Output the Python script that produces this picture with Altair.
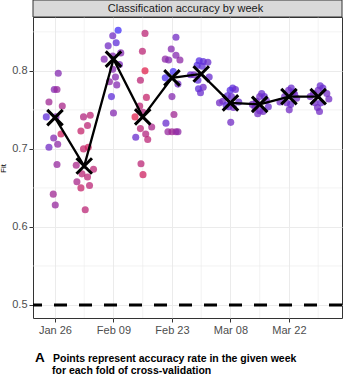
import altair as alt
import pandas as pd

# ---- data ----
week_days = [0, 7, 14, 21, 28, 35, 42, 49, 56, 63]  # days since 2020-01-26
week_means = [0.740, 0.678, 0.815, 0.741, 0.791, 0.796, 0.759, 0.757, 0.767, 0.767]

fold_acc = [
    [0.797, 0.776, 0.776, 0.760, 0.755, 0.741, 0.741, 0.719, 0.714, 0.706, 0.702, 0.680, 0.642, 0.628],
    [0.741, 0.743, 0.730, 0.723, 0.700, 0.702, 0.679, 0.674, 0.668, 0.664, 0.658, 0.650, 0.653, 0.622],
    [0.852, 0.845, 0.836, 0.832, 0.823, 0.815, 0.819, 0.808, 0.802, 0.792, 0.786, 0.782, 0.767, 0.746],
    [0.848, 0.825, 0.800, 0.788, 0.766, 0.755, 0.747, 0.741, 0.726, 0.728, 0.719, 0.712, 0.715, 0.681, 0.667],
    [0.843, 0.828, 0.820, 0.815, 0.814, 0.814, 0.799, 0.791, 0.783, 0.767, 0.744, 0.733, 0.722, 0.722, 0.722, 0.722],
    [0.813, 0.812, 0.811, 0.807, 0.806, 0.795, 0.795, 0.792, 0.788, 0.779, 0.777, 0.772],
    [0.778, 0.775, 0.776, 0.768, 0.767, 0.761, 0.759, 0.760, 0.756, 0.754, 0.753, 0.734],
    [0.771, 0.767, 0.767, 0.761, 0.762, 0.757, 0.754, 0.753, 0.749, 0.748, 0.745],
    [0.778, 0.775, 0.773, 0.767, 0.765, 0.760, 0.759, 0.757, 0.750, 0.770],
    [0.781, 0.778, 0.775, 0.771, 0.771, 0.767, 0.764, 0.759, 0.759, 0.753, 0.748],
]
fold_jitter = [
    [0.79, -0.17, 0.48, -1.44, 1.75, -2.08, 0.24, 1.44, -0.31, 0.65, -1.44, 0.48, -0.41, 0.07],
    [-0.17, 1.44, 0.79, -0.79, -0.17, 0.96, -1.91, 2.22, -0.55, 0.79, -1.75, -0.79, 1.27, 0.24],
    [1.12, -0.17, 0.65, -1.27, 1.75, -2.22, -0.17, 1.44, -0.17, 0.48, -0.96, 0.79, -0.48, 0.0],
    [0.55, -0.07, 0.55, -0.55, 0.89, -0.72, 0.07, -1.84, -0.55, 2.15, 0.72, 1.20, -1.67, -0.41, 0.07],
    [0.96, -0.17, 0.96, -1.60, -0.79, 1.91, 0.31, -1.60, 1.44, 0.0, 0.48, -1.44, -0.96, 0.0, 0.96, 1.44],
    [-0.48, 0.48, 1.60, -0.96, 0.24, -2.56, -1.75, 1.91, -0.79, 0.48, -0.65, -0.17],
    [0.55, -0.07, 1.20, -0.72, 0.24, -1.84, -2.63, 1.99, -1.03, -0.41, 0.72, 0.07],
    [0.48, 0.0, 1.12, -0.79, 1.60, -1.75, 2.07, -1.12, 0.0, 0.79, -0.48],
    [0.55, -0.07, 1.03, -1.03, 1.84, -2.15, -0.55, 0.41, 0.07, 1.36],
    [0.48, 1.12, 0.0, -1.12, 2.07, -1.91, 2.55, -0.79, 0.65, -0.17, 0.31],
]
fold_share = [
    [0.6, 0.6, 0.5, 0.45, 0.4, 0.8, 0.6, 0.2, 0.6, 0.55, 0.7, 0.5, 0.45, 0.5],
    [0.35, 0.3, 0.3, 0.25, 0.25, 0.2, 0.4, 0.3, 0.3, 0.3, 0.4, 0.25, 0.3, 0.3],
    [0.95, 0.7, 0.8, 0.7, 0.6, 0.6, 0.6, 0.65, 0.6, 0.6, 0.55, 0.6, 0.8, 0.6],
    [0.3, 0.3, 0.1, 0.3, 0.25, 0.3, 0.35, 0.1, 0.3, 0.4, 0.35, 0.3, 0.75, 0.3, 0.2],
    [0.7, 0.6, 0.6, 0.55, 0.6, 0.55, 0.95, 0.9, 0.7, 0.6, 0.45, 0.75, 0.5, 0.45, 0.5, 0.55],
    [0.85, 0.8, 0.75, 0.85, 0.8, 0.75, 0.7, 0.75, 0.8, 0.7, 0.8, 0.75],
    [0.8, 0.85, 0.75, 0.8, 0.75, 0.7, 0.7, 0.75, 0.8, 0.75, 0.7, 0.7],
    [0.75, 0.7, 0.75, 0.7, 0.7, 0.7, 0.75, 0.7, 0.7, 0.7, 0.7],
    [0.75, 0.7, 0.75, 0.7, 0.7, 0.7, 0.7, 0.75, 0.7, 0.7],
    [0.75, 0.75, 0.7, 0.7, 0.7, 0.7, 0.7, 0.7, 0.75, 0.7, 0.7],
]

x_tick_days = [0, 14, 28, 42, 56]
x_tick_labels = ["Jan 26", "Feb 09", "Feb 23", "Mar 08", "Mar 22"]
x_minor_days = [7, 21, 35, 49, 63]
y_ticks = [0.5, 0.6, 0.7, 0.8]
y_minor = [0.55, 0.65, 0.75, 0.85]
chance_level = [0.5]

panel_title = "Classification accuracy by week"
caption_letter = "A"
caption_lines = ["Points represent accuracy rate in the given week",
                 "for each fold of cross-validation"]

# ---- tables ----
rows = []
for d, accs, jits, shares in zip(week_days, fold_acc, fold_jitter, fold_share):
    for a, j, s in zip(accs, jits, shares):
        rows.append({"day": d + j, "fit": a, "share": s})
points_df = pd.DataFrame(rows)
means_df = pd.DataFrame({"day": week_days, "fit": week_means})

W, H = 309, 301
FONT = "Liberation Sans"

xscale = alt.Scale(domain=[-5.26, 68.7], nice=False, zero=False)
yscale = alt.Scale(domain=[0.4833, 0.869], nice=False, zero=False)

label_arr = "[" + ",".join("'" + s + "'" for s in x_tick_labels) + "]"

xaxis = alt.Axis(values=x_tick_days, labelExpr=label_arr + "[round(datum.value/14)]",
                 title=None, grid=True, gridColor="#ebebeb", gridWidth=1,
                 domain=False, ticks=True, tickColor="#333333", tickSize=4,
                 labelColor="#4d4d4d", labelFontSize=11, labelFont=FONT, labelPadding=2)
yaxis = alt.Axis(values=y_ticks, format=".1f", title="Fit", grid=True,
                 gridColor="#ebebeb", gridWidth=1, domain=False, ticks=True,
                 tickColor="#333333", tickSize=4, labelColor="#4d4d4d",
                 labelFontSize=11, labelFont=FONT, labelPadding=2,
                 titleFont=FONT, titleFontSize=8, titleFontWeight="normal",
                 titleColor="#000000", titleX=-26, titleY=151)

ygrid_minor = alt.Chart(pd.DataFrame({"fit": y_minor})).mark_rule(
    color="#ebebeb", strokeWidth=0.6).encode(y=alt.Y("fit:Q", scale=yscale, axis=yaxis))
xgrid_minor = alt.Chart(pd.DataFrame({"day": x_minor_days})).mark_rule(
    color="#ebebeb", strokeWidth=0.6).encode(x=alt.X("day:Q", scale=xscale, axis=xaxis))

chance = alt.Chart(pd.DataFrame({"fit": chance_level})).mark_rule(
    color="black", strokeWidth=3, strokeDash=[13, 12]).encode(y=alt.Y("fit:Q", scale=yscale))

pts = alt.Chart(points_df).mark_circle(size=50, opacity=0.75).encode(
    x=alt.X("day:Q", scale=xscale),
    y=alt.Y("fit:Q", scale=yscale),
    color=alt.Color("share:Q", scale=alt.Scale(domain=[0, 1], range=["#f2203a", "#3a30ff"],
                                               interpolate="rgb"), legend=None),
)

line = alt.Chart(means_df).mark_line(color="black", strokeWidth=2.3).encode(
    x=alt.X("day:Q", scale=xscale), y=alt.Y("fit:Q", scale=yscale))

crosses = alt.Chart(means_df).mark_point(
    shape="M-1,-1L1,1M-1,1L1,-1", filled=False, stroke="black", strokeWidth=3,
    size=240, opacity=1).encode(x=alt.X("day:Q", scale=xscale), y=alt.Y("fit:Q", scale=yscale))

one = pd.DataFrame({"k": [0]})
strip = alt.Chart(one).mark_rect(fill="#d9d9d9", stroke="#333333", strokeWidth=1).encode(
    x=alt.value(0), x2=alt.value(W), y=alt.value(-17), y2=alt.value(0))
strip_text = alt.Chart(one).mark_text(font=FONT, fontSize=11, color="#1a1a1a",
                                      baseline="middle", align="center").encode(
    x=alt.value(W / 2 - 2), y=alt.value(-8.5), text=alt.value(panel_title))

cap_a = alt.Chart(one).mark_text(font=FONT, fontSize=13.5, fontWeight="bold", color="#000000",
                                 align="left", baseline="alphabetic").encode(
    x=alt.value(2), y=alt.value(345), text=alt.value(caption_letter))
cap_1 = alt.Chart(one).mark_text(font=FONT, fontSize=10.5, fontWeight="bold", color="#000000",
                                 align="left", baseline="alphabetic").encode(
    x=alt.value(20), y=alt.value(345), text=alt.value(caption_lines[0]))
cap_2 = alt.Chart(one).mark_text(font=FONT, fontSize=10.5, fontWeight="bold", color="#000000",
                                 align="left", baseline="alphabetic").encode(
    x=alt.value(19), y=alt.value(357), text=alt.value(caption_lines[1]))

chart = alt.layer(
    ygrid_minor, xgrid_minor, chance, pts, line, crosses, strip, strip_text, cap_a, cap_1, cap_2
).properties(
    width=W, height=H,
    autosize=alt.AutoSizeParams(type="none"),
    padding={"left": 33, "top": 17, "right": 8, "bottom": 60},
    background="white",
).configure_view(stroke="#333333", strokeWidth=1)

chart.save("out.html", embed_options={"renderer": "svg", "actions": False})
